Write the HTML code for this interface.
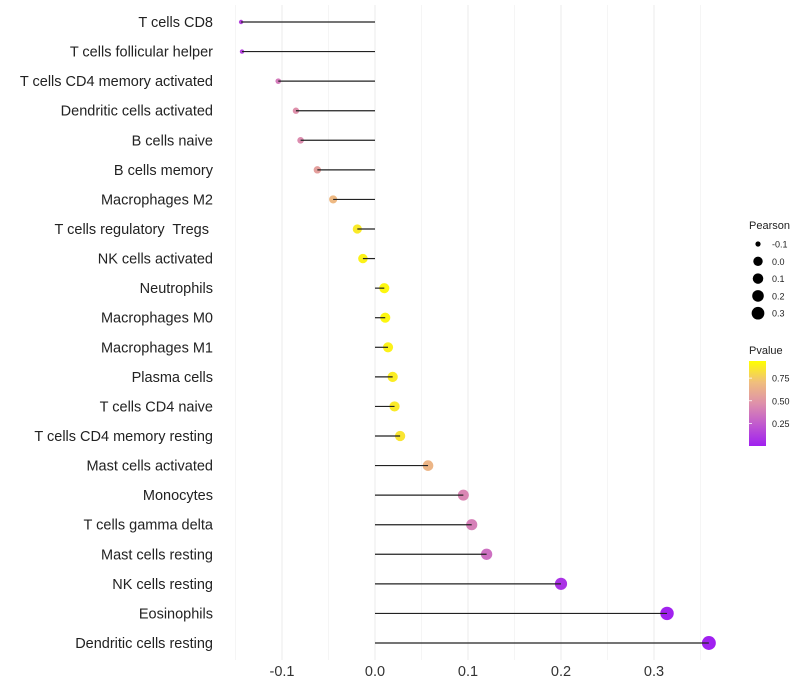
<!DOCTYPE html>
<html><head><meta charset="utf-8"><style>
body{margin:0;background:#fff;font-family:"Liberation Sans",sans-serif}
svg{display:block}
svg text{white-space:pre}
</style></head><body>
<svg id="chart" width="800" height="700"></svg>
<script>
const categories=["T cells CD8","T cells follicular helper","T cells CD4 memory activated","Dendritic cells activated","B cells naive","B cells memory","Macrophages M2","T cells regulatory  Tregs ","NK cells activated","Neutrophils","Macrophages M0","Macrophages M1","Plasma cells","T cells CD4 naive","T cells CD4 memory resting","Mast cells activated","Monocytes","T cells gamma delta","Mast cells resting","NK cells resting","Eosinophils","Dendritic cells resting"];
const pearson=[-0.144,-0.143,-0.104,-0.085,-0.080,-0.062,-0.045,-0.019,-0.013,0.010,0.011,0.014,0.019,0.021,0.027,0.057,0.095,0.104,0.120,0.200,0.314,0.359];
const pvalue=[0.15,0.15,0.4,0.5,0.48,0.58,0.72,0.92,0.95,0.97,0.97,0.95,0.93,0.92,0.9,0.7,0.45,0.42,0.35,0.08,0.01,0.0];
const xTicks=[-0.1,0,0.1,0.2,0.3];
const sizeLegend=[-0.1,0.0,0.1,0.2,0.3];
const colorTicks=[0.25,0.5,0.75];
const NS="http://www.w3.org/2000/svg";
const svg=document.getElementById('chart');
const x=v=>375+v*930;
const y=i=>22+i*(621/21);
const r=v=>v>=0?5+5.5*v:Math.max(2.2,5+21*v);
function col(p){
 const st=[[0,[160,32,240]],[0.45,[218,135,180]],[0.75,[240,190,125]],[1,[255,255,0]]];
 for(let k=1;k<st.length;k++){ if(p<=st[k][0]){const a=st[k-1],b=st[k];const t=(p-a[0])/(b[0]-a[0]);
  return 'rgb('+a[1].map((c,j)=>Math.round(c+(b[1][j]-c)*t)).join(',')+')';}}
 return 'rgb(255,255,0)';
}
function el(t,a,txt){const e=document.createElementNS(NS,t);for(const k in a)e.setAttribute(k,a[k]);if(txt!=null)e.textContent=txt;svg.appendChild(e);return e;}
for(let v=-0.15;v<=0.351;v+=0.05){
 const major=Math.abs(Math.round(v*20)%2)===0;
 const g=el('line',{x1:x(v),x2:x(v),y1:5,y2:660,stroke:major?'#ebebeb':'#f3f3f3','stroke-width':major?1:0.8});
 
 
}
xTicks.forEach(v=>{
 const t=el('text',{x:x(v),y:676,'text-anchor':'middle','font-size':14.5,fill:'#333'},v===0?'0.0':String(v));
 
 
});
categories.forEach((c,i)=>{
 const t=el('text',{x:213,y:y(i)+5,'text-anchor':'end','font-size':14.5,fill:'#222'},c);
 
 
 const p=el('circle',{cx:x(pearson[i]),cy:y(i),r:r(pearson[i]),fill:col(pvalue[i])});
 
 
 const l=el('line',{x1:x(0),x2:x(pearson[i]),y1:y(i),y2:y(i),stroke:'#222','stroke-width':1.2});
 
 
});
const lt=el('text',{x:749,y:229,'font-size':11,fill:'#222'},'Pearson');


sizeLegend.forEach((v,i)=>{
 const cy=244+i*17.3;
 const c=el('circle',{cx:758,cy:cy,r:r(v)-0.3,fill:'#000'});
 
 
 const t=el('text',{x:772,y:cy+3.5,'font-size':9,fill:'#222'},v===0?'0.0':String(v));
 
 
});
const pt=el('text',{x:749,y:354,'font-size':11,fill:'#222'},'Pvalue');


const defs=el('defs',{});
const lg=document.createElementNS(NS,'linearGradient');
lg.setAttribute('id','pg');lg.setAttribute('x1','0');lg.setAttribute('y1','1');lg.setAttribute('x2','0');lg.setAttribute('y2','0');
[0,0.25,0.5,0.75,1].forEach(s=>{const st=document.createElementNS(NS,'stop');st.setAttribute('offset',s);st.setAttribute('stop-color',col(s));lg.appendChild(st);});
defs.appendChild(lg);
const bar=el('rect',{x:749,y:361,width:17,height:85,fill:'url(#pg)'});


colorTicks.forEach(v=>{
 const cy=446-v*90.5;
 const tk=el('line',{x1:749,x2:752,y1:cy,y2:cy,stroke:'#fff','stroke-width':0.8});
 
 
 const t=el('text',{x:772,y:cy+3.5,'font-size':9,fill:'#222'},v.toFixed(2));
 
 
});
</script>
</body></html>
